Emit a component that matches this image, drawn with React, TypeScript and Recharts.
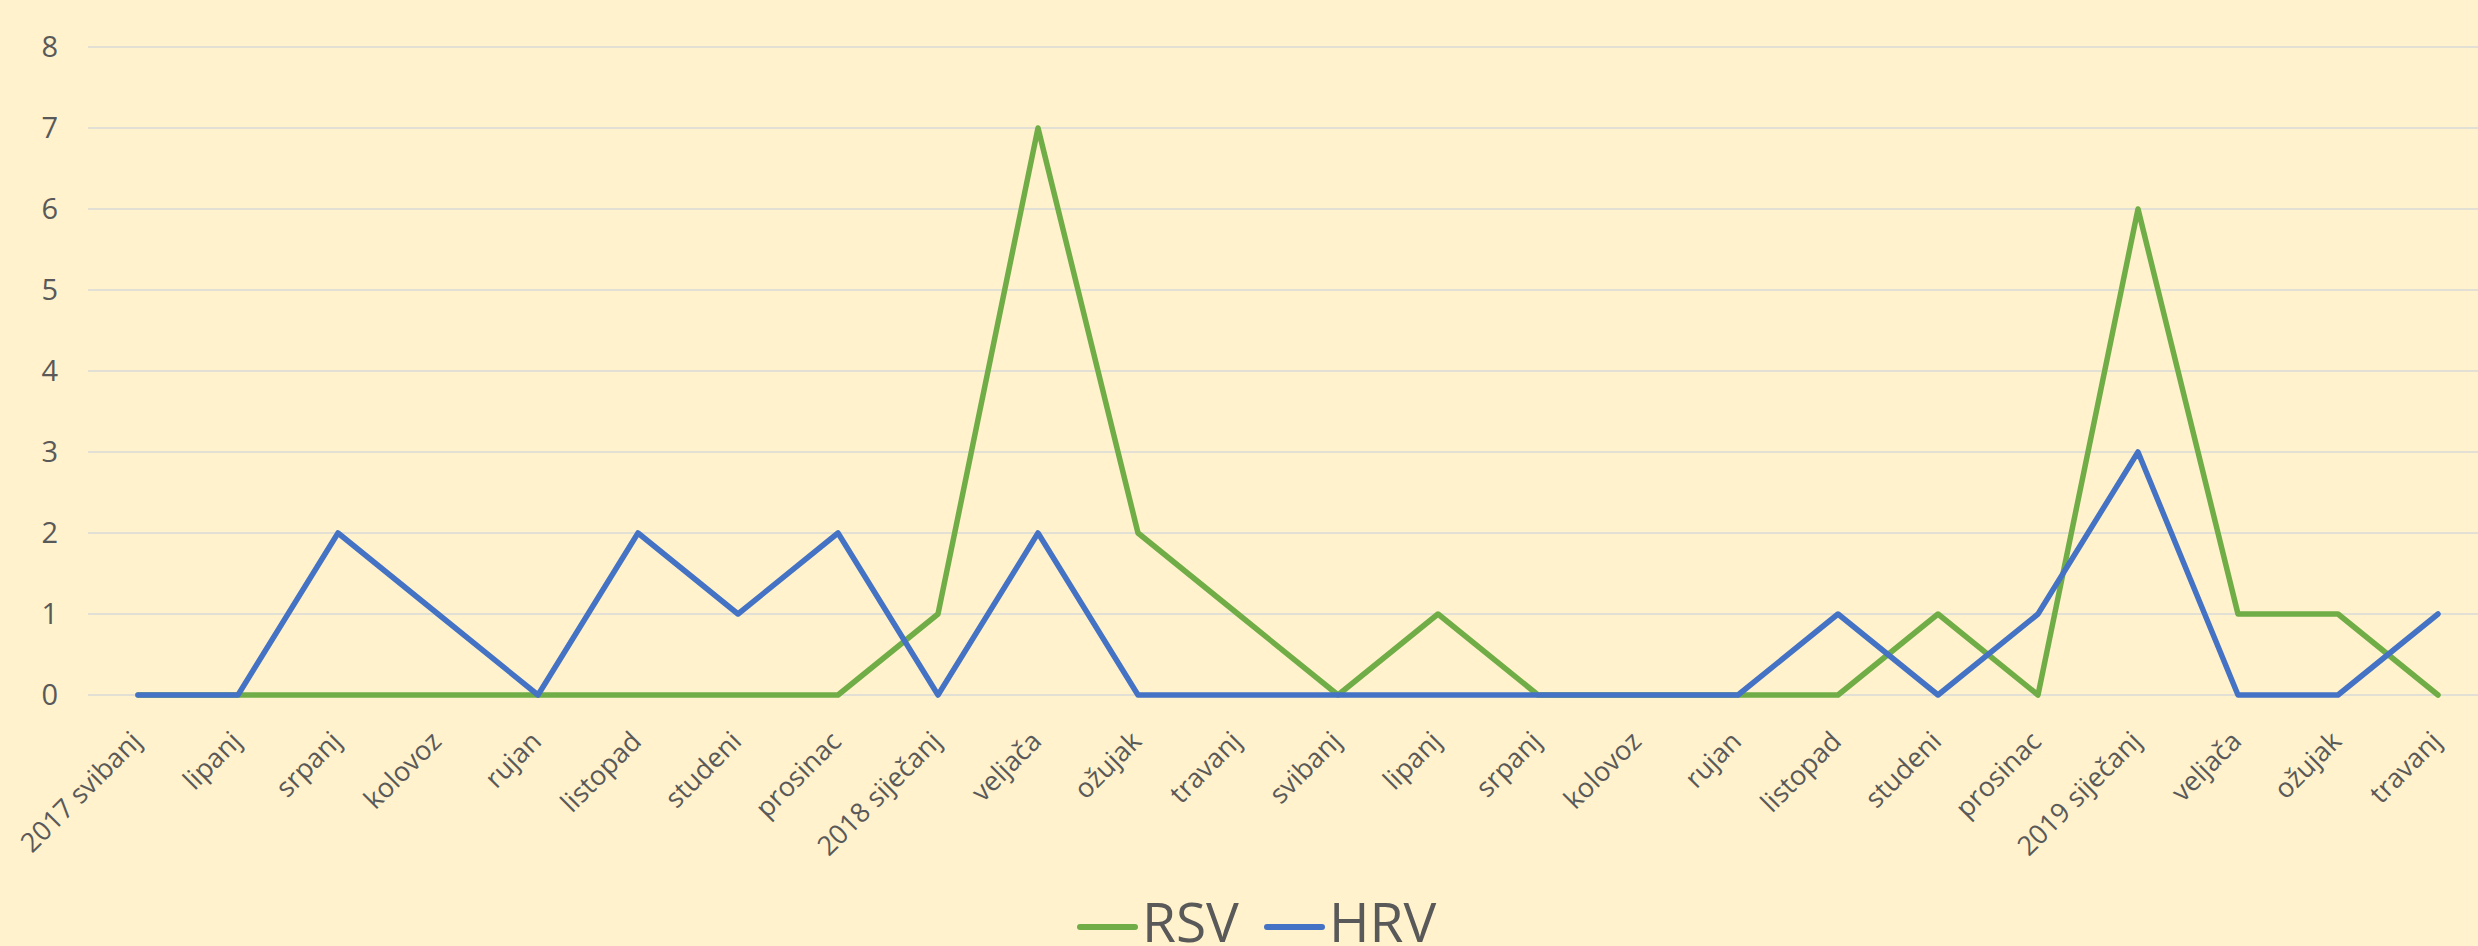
import { LineChart, Line, XAxis, YAxis, CartesianGrid, Legend } from 'recharts'

const MONTHS = [
  '2017 svibanj', 'lipanj', 'srpanj', 'kolovoz', 'rujan', 'listopad',
  'studeni', 'prosinac', '2018 siječanj', 'veljača', 'ožujak', 'travanj',
  'svibanj', 'lipanj', 'srpanj', 'kolovoz', 'rujan', 'listopad',
  'studeni', 'prosinac', '2019 siječanj', 'veljača', 'ožujak', 'travanj',
]

const RSV = [0, 0, 0, 0, 0, 0, 0, 0, 1, 7, 2, 1, 0, 1, 0, 0, 0, 0, 1, 0, 6, 1, 1, 0]
const HRV = [0, 0, 2, 1, 0, 2, 1, 2, 0, 2, 0, 0, 0, 0, 0, 0, 0, 1, 0, 1, 3, 0, 0, 1]

const Y_TICKS = [0, 1, 2, 3, 4, 5, 6, 7, 8]

const SERIES = [
  { key: 'RSV', color: '#70AD47' },
  { key: 'HRV', color: '#4472C4' },
]

const FONT = '"Open Sans", "Noto Sans", sans-serif'
const TEXT = '#595959'

const data = MONTHS.map((m, i) => ({ idx: i, label: m, RSV: RSV[i], HRV: HRV[i] }))

function MonthTick({ x, y, payload }: any) {
  const ax = x + 5
  const ay = y + 40
  return (
    <text
      x={ax}
      y={ay}
      transform={`rotate(-45, ${ax}, ${ay})`}
      textAnchor="end"
      fontSize={27}
      fontFamily={FONT}
      fill={TEXT}
    >
      {MONTHS[payload.value]}
    </text>
  )
}

function LegendBox() {
  return (
    <svg width={420} height={66} style={{ display: 'block' }}>
      {SERIES.map((s, i) => {
        const x0 = i === 0 ? 3 : 190
        return (
          <g key={s.key}>
            <line x1={x0} y1={47} x2={x0 + 55} y2={47} stroke={s.color} strokeWidth={6} strokeLinecap="round" />
            <text x={x0 + 62} y={62} fontSize={55} fontFamily={FONT} fill={TEXT}>
              {s.key}
            </text>
          </g>
        )
      })}
    </svg>
  )
}

export default function App() {
  return (
    <div style={{ width: 2478, height: 946, overflow: 'hidden', background: '#FFF2CC', position: 'relative' }}>
      <style>{'body{margin:0;overflow:hidden}'}</style>
      <LineChart
        width={2488}
        height={946}
        data={data}
        margin={{ top: 47, right: 0, left: 0, bottom: 65 }}
      >
        <CartesianGrid stroke="#D9D9D9" strokeWidth={1.5} vertical={false} />
        <XAxis
          dataKey="idx"
          type="category"
          tick={<MonthTick />}
          tickLine={false}
          axisLine={false}
          interval={0}
          padding={{ left: 50, right: 50 }}
          height={120}
        />
        <YAxis
          domain={[0, 8]}
          ticks={Y_TICKS}
          tick={{ fontSize: 29, fill: TEXT, fontFamily: FONT }}
          tickLine={false}
          axisLine={false}
          tickSize={0}
          tickMargin={30}
          width={88}
        />
        <Legend
          content={<LegendBox />}
          wrapperStyle={{ position: 'absolute', left: 1077, top: 880, width: 420, height: 66 }}
        />
        {SERIES.map(s => (
          <Line
            key={s.key}
            dataKey={s.key}
            type="linear"
            stroke={s.color}
            strokeWidth={5.5}
            strokeLinejoin="round"
            strokeLinecap="round"
            dot={false}
            activeDot={false}
            isAnimationActive={false}
          />
        ))}
      </LineChart>
    </div>
  )
}
